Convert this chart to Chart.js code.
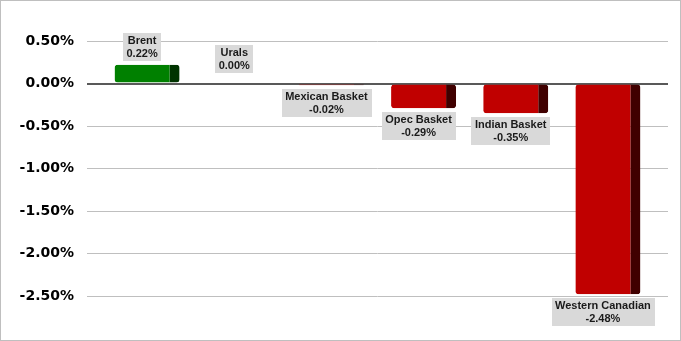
<!DOCTYPE html>
<html>
<head>
<meta charset="utf-8">
<script src="https://cdn.jsdelivr.net/npm/chart.js@4/dist/chart.umd.min.js"></script>
<style>
  html, body { margin: 0; padding: 0; background: #ffffff; }
  #wrap { width: 681px; height: 341px; position: relative; }
</style>
</head>
<body>
<div id="wrap"><canvas id="c" width="681" height="341"></canvas></div>
<script>
// ---- data ----
const categories = ["Brent", "Urals", "Mexican Basket", "Opec Basket", "Indian Basket", "Western Canadian"];
const changes = [0.22, 0.00, -0.02, -0.29, -0.35, -2.48];
const yTickValues = [0.5, 0, -0.5, -1.0, -1.5, -2.0, -2.5];

// ---- styles ----
const SIDE = 10;           // width of dark side face
const upFront = "#008000", upSide = "#003300";
const downFront = "#C00000", downSide = "#400000";

const points = categories.map((c, i) => ({ x: i, y: changes[i] }));

const borderPlugin = {
  id: "outerBorder",
  afterDraw(chart) {
    const ctx = chart.ctx;
    ctx.save();
    ctx.strokeStyle = "#BFBFBF";
    ctx.lineWidth = 1;
    ctx.strokeRect(0.5, 0.5, chart.width - 1, chart.height - 1);
    ctx.restore();
  }
};

const labelPlugin = {
  id: "boxLabels",
  afterDatasetsDraw(chart) {
    const ctx = chart.ctx;
    const meta = chart.getDatasetMeta(0);
    const zeroY = chart.scales.y.getPixelForValue(0);
    ctx.save();
    ctx.font = "bold 11px 'Liberation Sans', Arial, sans-serif";
    ctx.textAlign = "center";
    ctx.textBaseline = "middle";
    meta.data.forEach((bar, i) => {
      const v = changes[i];
      const l1 = categories[i];
      const l2 = v.toFixed(2) + "%";
      const w = Math.max(ctx.measureText(l1).width, ctx.measureText(l2).width) + 7;
      const h = 28;
      const cx = bar.x - SIDE / 2;
      let top;
      if (v > 0) top = bar.y - 4 - h;
      else if (v === 0) top = zeroY - 11 - h;
      else top = bar.y + 3.5;
      ctx.fillStyle = "#D9D9D9";
      ctx.fillRect(Math.round(cx - w / 2), Math.round(top), Math.round(w), h);
      ctx.fillStyle = "#1a1a1a";
      ctx.fillText(l1, cx, top + 8);
      ctx.fillText(l2, cx, top + 21);
    });
    ctx.restore();
  }
};

new Chart(document.getElementById("c"), {
  type: "bar",
  data: {
    datasets: [{
      data: points,
      backgroundColor: changes.map(v => v >= 0 ? upFront : downFront),
      borderColor: changes.map(v => v >= 0 ? upSide : downSide),
      borderWidth: { top: 0, left: 0, bottom: 0, right: SIDE },
      borderSkipped: false,
      borderRadius: 3,
      barThickness: 65,
      inflateAmount: 0
    }]
  },
  options: {
    responsive: false,
    devicePixelRatio: 1,
    animation: false,
    layout: { padding: { left: 0, right: 13, top: 41, bottom: 45 } },
    plugins: { legend: { display: false }, tooltip: { enabled: false } },
    scales: {
      x: {
        type: "linear",
        display: false,
        offset: false,
        min: -0.652,
        max: categories.length - 1 + 0.652
      },
      y: {
        min: Math.min(...yTickValues),
        max: Math.max(...yTickValues),
        afterBuildTicks(scale) { scale.ticks = yTickValues.map(v => ({ value: v })); },
        afterFit(scale) { scale.width = 87; },
        border: { display: false },
        grid: {
          drawTicks: false,
          color: c => (c.tick && c.tick.value === 0) ? "#595959" : "#BFBFBF",
          lineWidth: c => (c.tick && c.tick.value === 0) ? 2 : 1
        },
        ticks: {
          padding: 13,
          color: "#000000",
          font: { family: "'DejaVu Sans', Verdana, sans-serif", size: 14, weight: "bold" },
          callback: v => v.toFixed(2) + "%"
        }
      }
    }
  },
  plugins: [labelPlugin, borderPlugin]
});
</script>
</body>
</html>
